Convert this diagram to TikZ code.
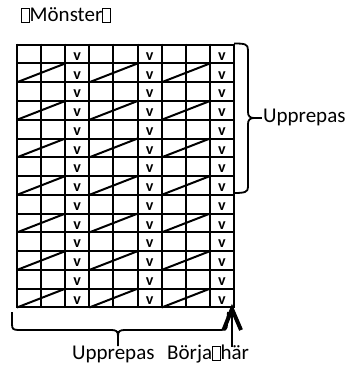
\documentclass[tikz,border=0pt]{standalone}
\usepackage{fontspec}
\setmainfont{Carlito}
\newcommand{\tofubox}{{\setlength{\fboxsep}{0pt}\setlength{\fboxrule}{0.9pt}\fbox{\rule{0pt}{0.62em}\hspace{0.32em}}}}
\begin{document}
\begin{tikzpicture}[x=1pt,y=-1pt,
  gridline/.style={line width=2pt},
  diagline/.style={line width=2pt},
  vmark/.style={font=\fontsize{16}{16}\selectfont\bfseries, inner sep=0pt},
  lbl/.style={font=\fontsize{21}{21}\selectfont, inner sep=0pt},
  bracestroke/.style={line width=1.8pt},
  arrowhd/.style={line width=4pt, line join=miter}]
\useasboundingbox (0,0) rectangle (346,365);
\def\xo{17}
\def\yo{44.7}
\def\cw{24.111}
\def\rh{18.77}
% grid
\foreach \i in {0,...,9}
  \draw[gridline] (\xo+\i*\cw,\yo-1) -- (\xo+\i*\cw,\yo+14*\rh+1);
\foreach \j in {0,...,14}
  \draw[gridline] (\xo-1,\yo+\j*\rh) -- (\xo+9*\cw+1,\yo+\j*\rh);
% diagonals
\foreach \r in {2,4,...,14}
  \foreach \c in {0,3,6}
    \draw[diagline] (\xo+\c*\cw,\yo+\r*\rh) -- (\xo+\c*\cw+2*\cw,\yo+\r*\rh-\rh);
% v marks
\foreach \r in {1,...,14}
  \foreach \c in {2,5,8}
    \node[vmark] (v-\r-\c) at (\xo+\c*\cw+0.5*\cw,\yo+\r*\rh-0.5*\rh+2.3) {v};
% title
\node[lbl, anchor=west] (title) at (21,15) {\tofubox Mönster\tofubox};
% right brace
\coordinate (rtip) at (254,118);
\draw[bracestroke] (234,43.5) .. controls (245,43.5) and (248,44) .. (248,50)
  -- (248,112) .. controls (248,116) and (250,118) .. (rtip)
  .. controls (250,118) and (248,120) .. (248,124)
  -- (248,187) .. controls (248,192) and (245,193) .. (234,193);
\draw[line width=1.4pt] (rtip) -- (262,118);
\node[lbl, anchor=west] (rlabel) at (263,117) {Upprepas};
% bottom brace
\coordinate (btip) at (118,346);
\draw[bracestroke] (12,312) -- (12,324) .. controls (12,329) and (13,330) .. (19,330)
  -- (111,330) .. controls (116,330) and (118,331) .. (118,336) -- (btip);
\draw[bracestroke] (118,336) .. controls (118,331) and (120,330) .. (125,330)
  -- (220,330) .. controls (226,330) and (227,329) .. (227,324) -- (228,312);
\draw[line width=2.8pt] (118,331) -- (btip);
\node[lbl, anchor=west] (blabel) at (72,354.5) {Upprepas};
\node[lbl, anchor=west] (start) at (167,354.5) {Börja\tofubox här};
% arrow
\coordinate (corner) at (232,309);
\coordinate (ashaft) at (232,347);
\draw[line width=1.6pt] (ashaft) -- (corner);
\draw[arrowhd] (223.5,330) -- (corner) -- (241,330);
\end{tikzpicture}
\end{document}
